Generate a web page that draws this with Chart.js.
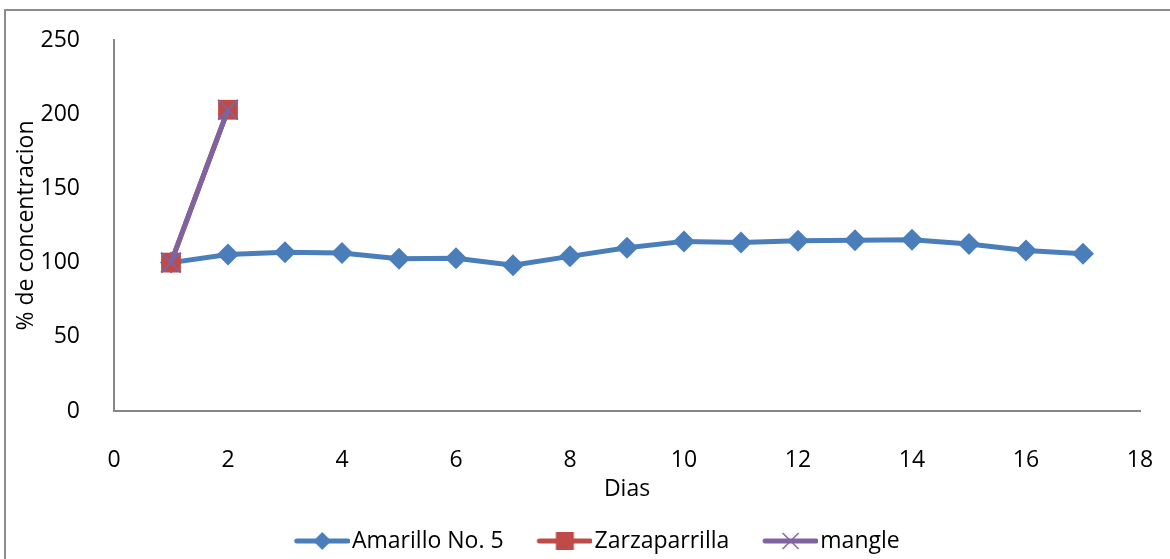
<!DOCTYPE html>
<html>
<head>
<meta charset="utf-8">
<script src="https://cdn.jsdelivr.net/npm/chart.js@4.4.1/dist/chart.umd.min.js"></script>
<style>
  html, body { margin: 0; padding: 0; background: #fff; overflow: hidden; }
  #wrap { position: relative; width: 1170px; height: 559px; }
  #frame { position: absolute; left: 4px; top: 9px; width: 1300px; height: 700px; border: 2px solid #8c8c8c; box-sizing: border-box; }
  #chart { position: absolute; left: 0; top: 0; }
</style>
</head>
<body>
<div id="wrap">
  <div id="frame"></div>
  <canvas id="chart" width="1170" height="559"></canvas>
</div>
<script>
// Data
const dias = [1, 2, 3, 4, 5, 6, 7, 8, 9, 10, 11, 12, 13, 14, 15, 16, 17];
const amarillo = [100, 105.5, 107, 106.5, 102.6, 103, 98.2, 104.2, 110, 114.3, 113.5, 114.8, 115, 115.4, 112.5, 108.2, 106];
const diasZarza = [1, 2];
const zarzaparrilla = [100, 203];
const diasMangle = [1, 2];
const mangle = [100, 203];

const xTicks = [0, 2, 4, 6, 8, 10, 12, 14, 16, 18];
const yTicks = [0, 50, 100, 150, 200, 250];

const azul = "#4A7EBB";
const rojo = "#BE4B48";
const morado = "#7F63A1";

function toPoints(xs, ys) {
  return xs.map((x, i) => ({ x: x, y: ys[i] }));
}

// Legend icon: line with marker in the middle
function legendIcon(color, kind) {
  const c = document.createElement("canvas");
  c.width = 88;
  c.height = 22;
  const ctx = c.getContext("2d");
  ctx.strokeStyle = color;
  ctx.fillStyle = color;
  ctx.lineWidth = 5;
  ctx.lineCap = "round";
  ctx.beginPath();
  ctx.moveTo(35, 11);
  ctx.lineTo(86, 11);
  ctx.stroke();
  const cx = 60.5, cy = 11;
  if (kind === "diamond") {
    ctx.beginPath();
    ctx.moveTo(cx, cy - 9);
    ctx.lineTo(cx + 9, cy);
    ctx.lineTo(cx, cy + 9);
    ctx.lineTo(cx - 9, cy);
    ctx.closePath();
    ctx.fill();
  } else if (kind === "square") {
    ctx.fillRect(cx - 9, cy - 9, 18, 18);
  } else {
    ctx.lineWidth = 1.5;
    ctx.lineCap = "butt";
    ctx.beginPath();
    ctx.moveTo(cx - 8, cy - 8);
    ctx.lineTo(cx + 8, cy + 8);
    ctx.moveTo(cx + 8, cy - 8);
    ctx.lineTo(cx - 8, cy + 8);
    ctx.stroke();
  }
  return c;
}

const icons = [
  legendIcon(azul, "diamond"),
  legendIcon(rojo, "square"),
  legendIcon(morado, "cross"),
];

// Move the legend to where it sits in the original
const moveLegend = {
  id: "moveLegend",
  afterLayout(chart) {
    const lg = chart.legend;
    const dx = 261 - lg.left;
    const dy = 519.5 - lg.top;
    lg.left += dx; lg.right += dx;
    lg.top += dy; lg.bottom += dy;
  },
};

Chart.defaults.font.family = "'Open Sans', sans-serif";
Chart.defaults.font.size = 23;
Chart.defaults.color = "#000";

new Chart(document.getElementById("chart"), {
  type: "scatter",
  data: {
    datasets: [
      {
        label: "Amarillo No. 5",
        data: toPoints(dias, amarillo),
        showLine: true,
        borderColor: azul,
        backgroundColor: azul,
        borderWidth: 5,
        pointStyle: "rectRot",
        pointRadius: 11,
        pointBorderWidth: 0,
        order: 2,
      },
      {
        label: "Zarzaparrilla",
        data: toPoints(diasZarza, zarzaparrilla),
        showLine: true,
        borderColor: rojo,
        backgroundColor: rojo,
        borderWidth: 5,
        pointStyle: "rect",
        pointRadius: 14,
        pointBorderWidth: 0,
        order: 1,
      },
      {
        label: "mangle",
        data: toPoints(diasMangle, mangle),
        showLine: true,
        borderColor: morado,
        backgroundColor: morado,
        borderWidth: 5,
        pointStyle: "crossRot",
        pointRadius: 14,
        pointBorderWidth: 2,
        order: 0,
      },
    ],
  },
  options: {
    responsive: false,
    animation: false,
    devicePixelRatio: 1,
    layout: { padding: { left: 8, top: 40, right: 30, bottom: 12 } },
    scales: {
      x: {
        type: "linear",
        min: xTicks[0],
        max: xTicks[xTicks.length - 1],
        afterBuildTicks: (scale) => { scale.ticks = xTicks.map((v) => ({ value: v })); },
        afterFit: (scale) => {
          scale.height = 93;
          scale.paddingLeft = 0;
          scale.paddingRight = 0;
        },
        grid: { display: false },
        border: { display: true, color: "#868686", width: 2 },
        ticks: { padding: 28, maxRotation: 0 },
        title: { display: true, text: "Dias", padding: { top: 0, bottom: 1 } },
      },
      y: {
        min: yTicks[0],
        max: yTicks[yTicks.length - 1],
        afterBuildTicks: (scale) => { scale.ticks = yTicks.map((v) => ({ value: v })); },
        afterFit: (scale) => { scale.width = 106; },
        grid: { display: false },
        border: { display: true, color: "#868686", width: 2 },
        ticks: { padding: 26 },
        title: { display: true, text: "% de concentracion", padding: { top: 5, bottom: 0 } },
      },
    },
    plugins: {
      tooltip: { enabled: false },
      legend: {
        position: "bottom",
        align: "start",
        labels: {
          usePointStyle: true,
          pointStyleWidth: 69.5,
          padding: 10,
          color: "#000",
          sort: (a, b) => a.datasetIndex - b.datasetIndex,
          generateLabels(chart) {
            const items = Chart.defaults.plugins.legend.labels.generateLabels(chart);
            items.forEach((it) => { it.pointStyle = icons[it.datasetIndex]; it.rotation = 0; });
            return items;
          },
        },
      },
    },
  },
  plugins: [moveLegend],
});
</script>
</body>
</html>
